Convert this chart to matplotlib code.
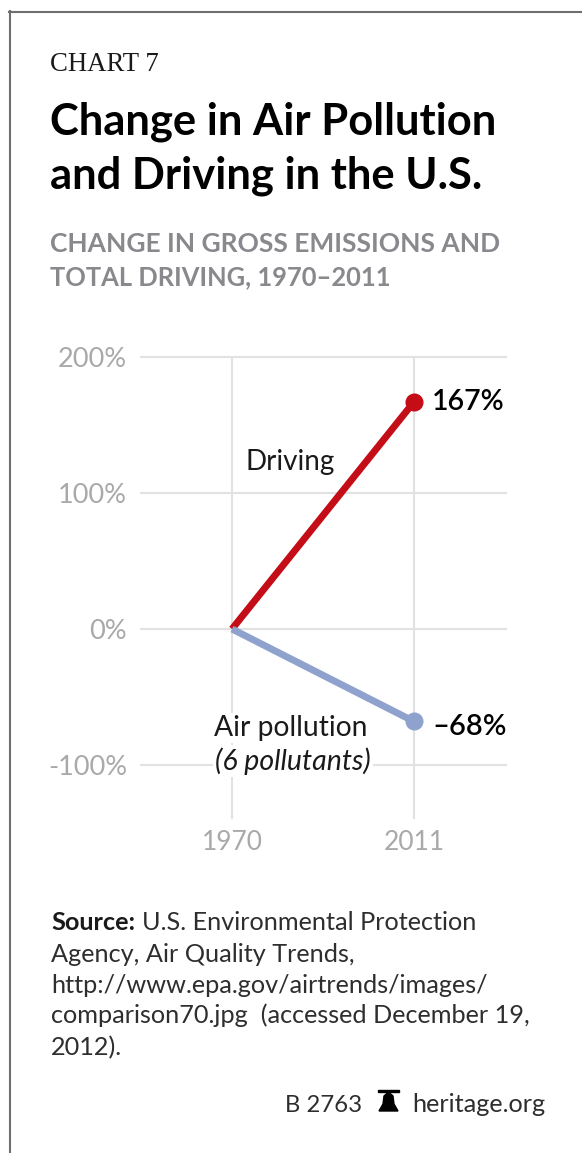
import matplotlib
matplotlib.use('Agg')
import matplotlib.pyplot as plt
from matplotlib.patches import Polygon, Rectangle

# 图表数据
YEARS = [1970, 2011]
DRIVING = [0, 167]
AIR_POLLUTION = [0, -68]
Y_TICKS = [200, 100, 0, -100]
Y_TICK_LABELS = ['200%', '100%', '0%', '-100%']

SOURCE_LINES = [
    'Agency, Air Quality Trends,',
    'http://www.epa.gov/airtrends/images/',
    'comparison70.jpg  (accessed December 19,',
    '2012).',
]
SOURCE_BASELINES = [962, 993, 1023, 1055]

W, H = 582, 1153
DARK = '#1A1A1A'
TICK_GRAY = '#A9A9AB'
GRID_GRAY = '#E2E2E2'
RED = '#C40D17'
BLUE = '#8FA2CE'

plt.rcParams['font.family'] = ['Lato', 'DejaVu Sans']

fig = plt.figure(figsize=(W / 100, H / 100), dpi=100, facecolor='white')


def put_text(x, y, s, **kw):
    # 按像素坐标放置文字，y 为基线位置
    kw.setdefault('va', 'baseline')
    return fig.text(x / W, 1 - y / H, s, **kw)


# 外框：只有左边和上边
fig.add_artist(plt.Line2D([9.5 / W, 9.5 / W], [0, 1 - 11 / H], color='#6E6E6E', lw=1.5))
fig.add_artist(plt.Line2D([9 / W, 1], [1 - 11.5 / H, 1 - 11.5 / H], color='#6E6E6E', lw=1.5))

# 标题区
put_text(50, 71, 'CHART 7', family='Liberation Serif', fontsize=19.3, color=DARK)
put_text(50, 135, 'Change in Air Pollution', fontsize=31.3, fontweight='bold', color='black')
put_text(50, 188, 'and Driving in the U.S.', fontsize=31.3, fontweight='bold', color='black')
put_text(50, 252, 'CHANGE IN GROSS EMISSIONS AND', fontsize=19, fontweight='bold', color='#88888D')
put_text(50, 285, 'TOTAL DRIVING, 1970\u20132011', fontsize=18.4, fontweight='bold', color='#88888D')

# 绘图区，网格线范围 x: 141-506，y: 357-818
left, right, top, bottom = 141, 506, 357, 818
ax = fig.add_axes([left / W, 1 - bottom / H, (right - left) / W, (bottom - top) / H])
px_per_year = (414 - 232) / (YEARS[1] - YEARS[0])
ax.set_xlim(YEARS[0] - (232 - left) / px_per_year, YEARS[1] + (right - 414) / px_per_year)
px_per_pct = (629 - top) / 200
ax.set_ylim(-(bottom - 629) / px_per_pct, 200)
ax.patch.set_alpha(0)
for spine in ax.spines.values():
    spine.set_visible(False)

ax.set_yticks(Y_TICKS)
ax.set_yticklabels(Y_TICK_LABELS, fontsize=19.5, color=TICK_GRAY)
ax.set_xticks(YEARS)
ax.set_xticklabels([str(y) for y in YEARS], fontsize=19, color=TICK_GRAY)
ax.tick_params(axis='both', length=0)
ax.tick_params(axis='y', pad=10)
ax.tick_params(axis='x', pad=9)
ax.grid(True, color=GRID_GRAY, lw=1.5, clip_on=False)
ax.set_axisbelow(True)

# 两条折线，只在 2011 年画圆点
ax.plot(YEARS, DRIVING, color=RED, lw=5, solid_capstyle='butt', zorder=3)
ax.plot(YEARS, AIR_POLLUTION, color=BLUE, lw=5, solid_capstyle='butt', zorder=3)
ax.plot(YEARS[1], DRIVING[1], 'o', color=RED, ms=13, mew=0, zorder=4)
ax.plot(YEARS[1], AIR_POLLUTION[1], 'o', color=BLUE, ms=13, mew=0, zorder=4)

# 末端数值标签
ax.annotate(f'{DRIVING[1]}%', (YEARS[1], DRIVING[1]), xytext=(13, -6), textcoords='offset points',
            fontsize=20.5, fontweight='semibold', color='black', va='baseline', zorder=5)
ax.annotate(f'\u2013{abs(AIR_POLLUTION[1])}%', (YEARS[1], AIR_POLLUTION[1]), xytext=(13, -9.5),
            textcoords='offset points', fontsize=21, fontweight='semibold', color='black',
            va='baseline', zorder=5)

# 系列名称，文字底色盖住网格线
label_box = dict(facecolor='white', edgecolor='none', pad=1.5)
put_text(246, 470, 'Driving', fontsize=20, color=DARK)
put_text(214, 736, 'Air pollution', fontsize=20.3, color=DARK, bbox=label_box, zorder=5)
put_text(215, 770, '(6 pollutants)', fontsize=20.5, fontstyle='italic', color=DARK,
         bbox=label_box, zorder=5)

# 资料来源
put_text(51, 930, 'Source:', fontsize=18.2, fontweight='bold', color=DARK)
put_text(142, 930, 'U.S. Environmental Protection', fontsize=18.2, color='#2E2E2E')
for line, y in zip(SOURCE_LINES, SOURCE_BASELINES):
    put_text(51, y, line, fontsize=18.2, color='#2E2E2E')

# 底部编号和钟形标志
put_text(285, 1112, 'B 2763', fontsize=17.2, color='#2E2E2E')
put_text(412, 1112, 'heritage.org', fontsize=18.2, color='#2E2E2E')

bell = [(379, 1111), (383, 1104), (384, 1096), (388.5, 1092), (393, 1096), (394, 1104), (398, 1111)]
fig.add_artist(Polygon([(x / W, 1 - y / H) for x, y in bell], closed=True, color='black',
                       transform=fig.transFigure))
fig.add_artist(Rectangle((378 / W, 1 - 1092 / H), 21 / W, 2 / H, color='black',
                         transform=fig.transFigure))

fig.savefig('out.png', dpi=100)
